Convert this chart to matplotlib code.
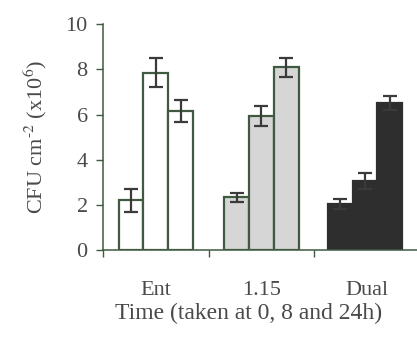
import numpy as np
import matplotlib
matplotlib.use("Agg")
import matplotlib.pyplot as plt

# data (0, 8 and 24 h per strain)
groups = ["Ent", "1.15", "Dual"]
ent = [2.2, 7.85, 6.15]
ent_err = [0.5, 0.65, 0.5]
l115 = [2.35, 5.95, 8.1]
l115_err = [0.2, 0.45, 0.42]
dual = [2.05, 3.05, 6.5]
dual_err = [0.22, 0.35, 0.32]

plt.rcParams["font.family"] = ["Liberation Serif", "DejaVu Serif"]
plt.rcParams["mathtext.fontset"] = "stix"
edge = "#3f5a40"
text_c = "#4a4a4a"

fig = plt.figure(figsize=(4.17, 3.45), dpi=100)
ax = fig.add_axes([0.247, 0.275, 0.76, 0.655])

xs = np.arange(len(groups))
offs = [-0.235, 0.0, 0.235]
w = 0.235
fills = ["white", "#d6d6d6", "#2e2e2e"]
vals = [ent, l115, dual]
errs = [ent_err, l115_err, dual_err]

for gi in range(len(groups)):
    for ti in range(3):
        x = xs[gi] + offs[ti] - (0.02 if gi == 2 else 0)
        ax.bar(x, vals[gi][ti], width=w, color=fills[gi],
               edgecolor=edge if gi < 2 else "#2e2e2e", linewidth=1.6, zorder=2)
        ax.errorbar(x, vals[gi][ti], yerr=errs[gi][ti], fmt="none",
                    ecolor="#3a3a3a", elinewidth=1.6, capsize=5, capthick=1.6, zorder=3)

ax.set_xlim(-0.5, 2.5)
ax.set_ylim(0, 10)
ax.set_yticks([0, 2, 4, 6, 8, 10])
ax.set_xticks(xs)
ax.set_xticklabels(groups)
ax.set_xticks([-0.5, 0.5, 1.5, 2.5], minor=True)
ax.tick_params(axis="x", which="major", length=0, pad=22, labelsize=16, colors=text_c)
ax.tick_params(axis="x", which="minor", length=5, width=1, color=edge)
ax.tick_params(axis="y", length=5, width=1, color=edge, labelsize=16, labelcolor=text_c, pad=6)

for s in ["top", "right"]:
    ax.spines[s].set_visible(False)
for s in ["left", "bottom"]:
    ax.spines[s].set_color(edge)
    ax.spines[s].set_linewidth(1.1)

ax.set_ylabel(r"CFU cm$^{\text{-}2}$ (x10$^{6}$)", fontsize=16, color=text_c, labelpad=12)
ax.set_xlabel("Time (taken at 0, 8 and 24h)", fontsize=17, color=text_c, labelpad=2)
ax.xaxis.label.set_x(0.46)

fig.savefig("out.png", dpi=100)
